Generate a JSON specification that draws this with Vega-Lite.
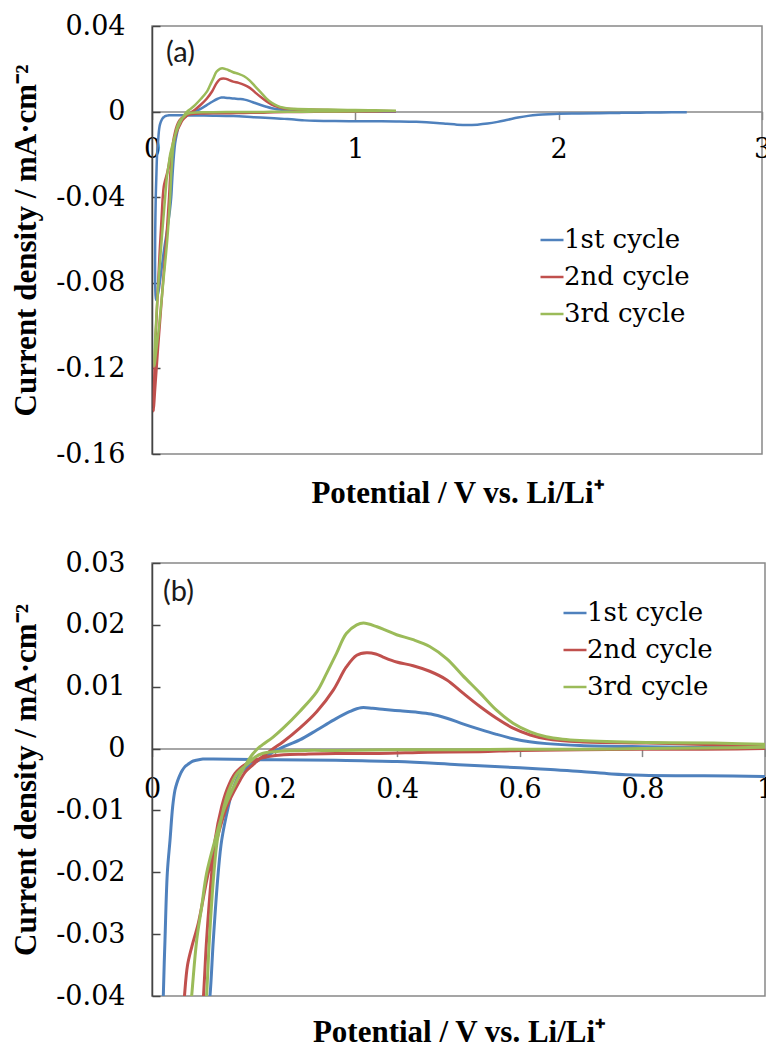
{
  "$schema": "https://vega.github.io/schema/vega-lite/v6.json",
  "padding": {"left": 10, "top": 11, "right": 0, "bottom": 0},
  "bounds": "flush",
  "spacing": 109,
  "config": {
    "view": {"stroke": "#888888", "strokeWidth": 1.5},
    "axis": {"grid": false, "labelFont": "DejaVu Serif", "labelFontSize": 27, "labelColor": "#000000", "titleFont": "Liberation Serif", "titleFontSize": 31, "titleFontWeight": "bold", "titleColor": "#000000", "labelOverlap": false, "labelFlush": false},
    "legend": {"orient": "none", "title": null, "symbolType": "stroke", "symbolSize": 529, "symbolStrokeWidth": 2.5, "labelFont": "DejaVu Serif", "labelFontSize": 26, "labelColor": "#000000", "labelOffset": -1, "rowPadding": 11, "padding": 0, "labelLimit": 0}
  },
  "resolve": {"legend": {"color": "independent"}},
  "datasets": {
    "cv": [
      {"c":"1st cycle","i":0,"v":2.63,"j":-0.0003},
      {"c":"1st cycle","i":1,"v":2.5,"j":-0.0004},
      {"c":"1st cycle","i":2,"v":2.4,"j":-0.0005},
      {"c":"1st cycle","i":3,"v":2.3,"j":-0.0006},
      {"c":"1st cycle","i":4,"v":2.2,"j":-0.0008},
      {"c":"1st cycle","i":5,"v":2.1,"j":-0.0009},
      {"c":"1st cycle","i":6,"v":2.0,"j":-0.001},
      {"c":"1st cycle","i":7,"v":1.95,"j":-0.0012},
      {"c":"1st cycle","i":8,"v":1.9,"j":-0.0015},
      {"c":"1st cycle","i":9,"v":1.85,"j":-0.002},
      {"c":"1st cycle","i":10,"v":1.8,"j":-0.0028},
      {"c":"1st cycle","i":11,"v":1.75,"j":-0.0038},
      {"c":"1st cycle","i":12,"v":1.7,"j":-0.0048},
      {"c":"1st cycle","i":13,"v":1.65,"j":-0.0056},
      {"c":"1st cycle","i":14,"v":1.6,"j":-0.0061},
      {"c":"1st cycle","i":15,"v":1.55,"j":-0.0063},
      {"c":"1st cycle","i":16,"v":1.5,"j":-0.0061},
      {"c":"1st cycle","i":17,"v":1.45,"j":-0.0057},
      {"c":"1st cycle","i":18,"v":1.4,"j":-0.0053},
      {"c":"1st cycle","i":19,"v":1.3,"j":-0.0048},
      {"c":"1st cycle","i":20,"v":1.2,"j":-0.0046},
      {"c":"1st cycle","i":21,"v":1.1,"j":-0.0045},
      {"c":"1st cycle","i":22,"v":1.0,"j":-0.0045},
      {"c":"1st cycle","i":23,"v":0.9,"j":-0.0044},
      {"c":"1st cycle","i":24,"v":0.8,"j":-0.0043},
      {"c":"1st cycle","i":25,"v":0.75,"j":-0.0041},
      {"c":"1st cycle","i":26,"v":0.7,"j":-0.0037},
      {"c":"1st cycle","i":27,"v":0.65,"j":-0.0034},
      {"c":"1st cycle","i":28,"v":0.6,"j":-0.0031},
      {"c":"1st cycle","i":29,"v":0.5,"j":-0.0026},
      {"c":"1st cycle","i":30,"v":0.4,"j":-0.0021},
      {"c":"1st cycle","i":31,"v":0.3,"j":-0.0019},
      {"c":"1st cycle","i":32,"v":0.2,"j":-0.0018},
      {"c":"1st cycle","i":33,"v":0.1,"j":-0.0017},
      {"c":"1st cycle","i":34,"v":0.083,"j":-0.0017},
      {"c":"1st cycle","i":35,"v":0.072,"j":-0.0019},
      {"c":"1st cycle","i":36,"v":0.065,"j":-0.0021},
      {"c":"1st cycle","i":37,"v":0.058,"j":-0.0026},
      {"c":"1st cycle","i":38,"v":0.054,"j":-0.0029},
      {"c":"1st cycle","i":39,"v":0.049,"j":-0.0036},
      {"c":"1st cycle","i":40,"v":0.0446,"j":-0.0045},
      {"c":"1st cycle","i":41,"v":0.0405,"j":-0.0056},
      {"c":"1st cycle","i":42,"v":0.0375,"j":-0.0067},
      {"c":"1st cycle","i":43,"v":0.0337,"j":-0.0094},
      {"c":"1st cycle","i":44,"v":0.0294,"j":-0.0148},
      {"c":"1st cycle","i":45,"v":0.025,"j":-0.0201},
      {"c":"1st cycle","i":46,"v":0.0212,"j":-0.0309},
      {"c":"1st cycle","i":47,"v":0.0185,"j":-0.0398},
      {"c":"1st cycle","i":48,"v":0.016,"j":-0.055},
      {"c":"1st cycle","i":49,"v":0.015,"j":-0.07},
      {"c":"1st cycle","i":50,"v":0.016,"j":-0.082},
      {"c":"1st cycle","i":51,"v":0.02,"j":-0.088},
      {"c":"1st cycle","i":52,"v":0.03,"j":-0.085},
      {"c":"1st cycle","i":53,"v":0.045,"j":-0.075},
      {"c":"1st cycle","i":54,"v":0.06,"j":-0.064},
      {"c":"1st cycle","i":55,"v":0.075,"j":-0.055},
      {"c":"1st cycle","i":56,"v":0.087,"j":-0.047},
      {"c":"1st cycle","i":57,"v":0.0946,"j":-0.04},
      {"c":"1st cycle","i":58,"v":0.1,"j":-0.031},
      {"c":"1st cycle","i":59,"v":0.108,"j":-0.0201},
      {"c":"1st cycle","i":60,"v":0.1137,"j":-0.0148},
      {"c":"1st cycle","i":61,"v":0.1245,"j":-0.0094},
      {"c":"1st cycle","i":62,"v":0.1316,"j":-0.0067},
      {"c":"1st cycle","i":63,"v":0.1436,"j":-0.004},
      {"c":"1st cycle","i":64,"v":0.16,"j":-0.0026},
      {"c":"1st cycle","i":65,"v":0.176,"j":-0.0018},
      {"c":"1st cycle","i":66,"v":0.188,"j":-0.0012},
      {"c":"1st cycle","i":67,"v":0.198,"j":-0.0005},
      {"c":"1st cycle","i":68,"v":0.215,"j":0.0003},
      {"c":"1st cycle","i":69,"v":0.241,"j":0.0014},
      {"c":"1st cycle","i":70,"v":0.269,"j":0.003},
      {"c":"1st cycle","i":71,"v":0.296,"j":0.0046},
      {"c":"1st cycle","i":72,"v":0.323,"j":0.006},
      {"c":"1st cycle","i":73,"v":0.341,"j":0.0066},
      {"c":"1st cycle","i":74,"v":0.36,"j":0.0065},
      {"c":"1st cycle","i":75,"v":0.38,"j":0.0063},
      {"c":"1st cycle","i":76,"v":0.405,"j":0.0061},
      {"c":"1st cycle","i":77,"v":0.43,"j":0.0059},
      {"c":"1st cycle","i":78,"v":0.455,"j":0.0056},
      {"c":"1st cycle","i":79,"v":0.481,"j":0.0049},
      {"c":"1st cycle","i":80,"v":0.507,"j":0.004},
      {"c":"1st cycle","i":81,"v":0.535,"j":0.0031},
      {"c":"1st cycle","i":82,"v":0.562,"j":0.0023},
      {"c":"1st cycle","i":83,"v":0.589,"j":0.0016},
      {"c":"1st cycle","i":84,"v":0.616,"j":0.0011},
      {"c":"1st cycle","i":85,"v":0.644,"j":0.0008},
      {"c":"1st cycle","i":86,"v":0.698,"j":0.0005},
      {"c":"1st cycle","i":87,"v":0.8,"j":0.0003},
      {"c":"1st cycle","i":88,"v":0.9,"j":0.0002},
      {"c":"1st cycle","i":89,"v":1.0,"j":0.0002},
      {"c":"1st cycle","i":90,"v":1.1,"j":0.0001},
      {"c":"1st cycle","i":91,"v":1.2,"j":0.0001},
      {"c":"2nd cycle","i":0,"v":1.2,"j":0.0002},
      {"c":"2nd cycle","i":1,"v":1.1,"j":0.0001},
      {"c":"2nd cycle","i":2,"v":1.0,"j":0.0},
      {"c":"2nd cycle","i":3,"v":0.9,"j":-0.0001},
      {"c":"2nd cycle","i":4,"v":0.8,"j":-0.0001},
      {"c":"2nd cycle","i":5,"v":0.7,"j":-0.0002},
      {"c":"2nd cycle","i":6,"v":0.6,"j":-0.0003},
      {"c":"2nd cycle","i":7,"v":0.535,"j":-0.0005},
      {"c":"2nd cycle","i":8,"v":0.45,"j":-0.0006},
      {"c":"2nd cycle","i":9,"v":0.37,"j":-0.0008},
      {"c":"2nd cycle","i":10,"v":0.3,"j":-0.0008},
      {"c":"2nd cycle","i":11,"v":0.25,"j":-0.0009},
      {"c":"2nd cycle","i":12,"v":0.215,"j":-0.001},
      {"c":"2nd cycle","i":13,"v":0.19,"j":-0.0013},
      {"c":"2nd cycle","i":14,"v":0.17,"j":-0.0018},
      {"c":"2nd cycle","i":15,"v":0.1545,"j":-0.0024},
      {"c":"2nd cycle","i":16,"v":0.1354,"j":-0.004},
      {"c":"2nd cycle","i":17,"v":0.122,"j":-0.0067},
      {"c":"2nd cycle","i":18,"v":0.1137,"j":-0.0094},
      {"c":"2nd cycle","i":19,"v":0.1028,"j":-0.0148},
      {"c":"2nd cycle","i":20,"v":0.0974,"j":-0.0201},
      {"c":"2nd cycle","i":21,"v":0.089,"j":-0.031},
      {"c":"2nd cycle","i":22,"v":0.084,"j":-0.04},
      {"c":"2nd cycle","i":23,"v":0.07,"j":-0.06},
      {"c":"2nd cycle","i":24,"v":0.05,"j":-0.085},
      {"c":"2nd cycle","i":25,"v":0.03,"j":-0.11},
      {"c":"2nd cycle","i":26,"v":0.015,"j":-0.13},
      {"c":"2nd cycle","i":27,"v":0.008,"j":-0.14},
      {"c":"2nd cycle","i":28,"v":0.01,"j":-0.128},
      {"c":"2nd cycle","i":29,"v":0.018,"j":-0.105},
      {"c":"2nd cycle","i":30,"v":0.028,"j":-0.085},
      {"c":"2nd cycle","i":31,"v":0.038,"j":-0.065},
      {"c":"2nd cycle","i":32,"v":0.047,"j":-0.05},
      {"c":"2nd cycle","i":33,"v":0.053,"j":-0.04},
      {"c":"2nd cycle","i":34,"v":0.058,"j":-0.035},
      {"c":"2nd cycle","i":35,"v":0.065,"j":-0.032},
      {"c":"2nd cycle","i":36,"v":0.0756,"j":-0.0282},
      {"c":"2nd cycle","i":37,"v":0.0918,"j":-0.0201},
      {"c":"2nd cycle","i":38,"v":0.1055,"j":-0.0148},
      {"c":"2nd cycle","i":39,"v":0.122,"j":-0.0094},
      {"c":"2nd cycle","i":40,"v":0.141,"j":-0.0056},
      {"c":"2nd cycle","i":41,"v":0.152,"j":-0.0038},
      {"c":"2nd cycle","i":42,"v":0.165,"j":-0.0026},
      {"c":"2nd cycle","i":43,"v":0.176,"j":-0.0016},
      {"c":"2nd cycle","i":44,"v":0.187,"j":-0.0008},
      {"c":"2nd cycle","i":45,"v":0.198,"j":0.0},
      {"c":"2nd cycle","i":46,"v":0.214,"j":0.0011},
      {"c":"2nd cycle","i":47,"v":0.241,"j":0.0033},
      {"c":"2nd cycle","i":48,"v":0.269,"j":0.006},
      {"c":"2nd cycle","i":49,"v":0.296,"j":0.0095},
      {"c":"2nd cycle","i":50,"v":0.317,"j":0.0132},
      {"c":"2nd cycle","i":51,"v":0.334,"j":0.0151},
      {"c":"2nd cycle","i":52,"v":0.35,"j":0.0155},
      {"c":"2nd cycle","i":53,"v":0.365,"j":0.0153},
      {"c":"2nd cycle","i":54,"v":0.377,"j":0.0148},
      {"c":"2nd cycle","i":55,"v":0.399,"j":0.014},
      {"c":"2nd cycle","i":56,"v":0.426,"j":0.0134},
      {"c":"2nd cycle","i":57,"v":0.453,"j":0.0125},
      {"c":"2nd cycle","i":58,"v":0.481,"j":0.0111},
      {"c":"2nd cycle","i":59,"v":0.507,"j":0.009},
      {"c":"2nd cycle","i":60,"v":0.535,"j":0.0068},
      {"c":"2nd cycle","i":61,"v":0.562,"j":0.0049},
      {"c":"2nd cycle","i":62,"v":0.589,"j":0.0033},
      {"c":"2nd cycle","i":63,"v":0.617,"j":0.0022},
      {"c":"2nd cycle","i":64,"v":0.643,"j":0.0016},
      {"c":"2nd cycle","i":65,"v":0.698,"j":0.0011},
      {"c":"2nd cycle","i":66,"v":0.807,"j":0.0009},
      {"c":"2nd cycle","i":67,"v":0.916,"j":0.0006},
      {"c":"2nd cycle","i":68,"v":1.0,"j":0.0004},
      {"c":"2nd cycle","i":69,"v":1.1,"j":0.0003},
      {"c":"2nd cycle","i":70,"v":1.2,"j":0.0002},
      {"c":"3rd cycle","i":0,"v":1.2,"j":0.0004},
      {"c":"3rd cycle","i":1,"v":1.1,"j":0.0003},
      {"c":"3rd cycle","i":2,"v":1.0,"j":0.0002},
      {"c":"3rd cycle","i":3,"v":0.9,"j":0.0001},
      {"c":"3rd cycle","i":4,"v":0.8,"j":0.0},
      {"c":"3rd cycle","i":5,"v":0.7,"j":-0.0001},
      {"c":"3rd cycle","i":6,"v":0.6,"j":-0.0001},
      {"c":"3rd cycle","i":7,"v":0.5,"j":-0.0002},
      {"c":"3rd cycle","i":8,"v":0.4,"j":-0.0002},
      {"c":"3rd cycle","i":9,"v":0.3,"j":-0.0003},
      {"c":"3rd cycle","i":10,"v":0.25,"j":-0.0003},
      {"c":"3rd cycle","i":11,"v":0.2,"j":-0.0005},
      {"c":"3rd cycle","i":12,"v":0.18,"j":-0.0008},
      {"c":"3rd cycle","i":13,"v":0.168,"j":-0.0014},
      {"c":"3rd cycle","i":14,"v":0.157,"j":-0.0024},
      {"c":"3rd cycle","i":15,"v":0.139,"j":-0.004},
      {"c":"3rd cycle","i":16,"v":0.1256,"j":-0.0067},
      {"c":"3rd cycle","i":17,"v":0.1175,"j":-0.0094},
      {"c":"3rd cycle","i":18,"v":0.1066,"j":-0.0148},
      {"c":"3rd cycle","i":19,"v":0.101,"j":-0.0201},
      {"c":"3rd cycle","i":20,"v":0.0935,"j":-0.031},
      {"c":"3rd cycle","i":21,"v":0.089,"j":-0.04},
      {"c":"3rd cycle","i":22,"v":0.075,"j":-0.06},
      {"c":"3rd cycle","i":23,"v":0.055,"j":-0.08},
      {"c":"3rd cycle","i":24,"v":0.035,"j":-0.1},
      {"c":"3rd cycle","i":25,"v":0.018,"j":-0.114},
      {"c":"3rd cycle","i":26,"v":0.012,"j":-0.119},
      {"c":"3rd cycle","i":27,"v":0.014,"j":-0.11},
      {"c":"3rd cycle","i":28,"v":0.022,"j":-0.095},
      {"c":"3rd cycle","i":29,"v":0.035,"j":-0.075},
      {"c":"3rd cycle","i":30,"v":0.05,"j":-0.057},
      {"c":"3rd cycle","i":31,"v":0.0647,"j":-0.04},
      {"c":"3rd cycle","i":32,"v":0.073,"j":-0.0309},
      {"c":"3rd cycle","i":33,"v":0.081,"j":-0.0256},
      {"c":"3rd cycle","i":34,"v":0.089,"j":-0.0202},
      {"c":"3rd cycle","i":35,"v":0.1028,"j":-0.0148},
      {"c":"3rd cycle","i":36,"v":0.119,"j":-0.0094},
      {"c":"3rd cycle","i":37,"v":0.139,"j":-0.0051},
      {"c":"3rd cycle","i":38,"v":0.154,"j":-0.0024},
      {"c":"3rd cycle","i":39,"v":0.165,"j":-0.0008},
      {"c":"3rd cycle","i":40,"v":0.176,"j":0.0003},
      {"c":"3rd cycle","i":41,"v":0.198,"j":0.0019},
      {"c":"3rd cycle","i":42,"v":0.214,"j":0.0033},
      {"c":"3rd cycle","i":43,"v":0.241,"j":0.006},
      {"c":"3rd cycle","i":44,"v":0.269,"j":0.0092},
      {"c":"3rd cycle","i":45,"v":0.285,"j":0.0122},
      {"c":"3rd cycle","i":46,"v":0.301,"j":0.0154},
      {"c":"3rd cycle","i":47,"v":0.317,"j":0.0186},
      {"c":"3rd cycle","i":48,"v":0.334,"j":0.02},
      {"c":"3rd cycle","i":49,"v":0.345,"j":0.0203},
      {"c":"3rd cycle","i":50,"v":0.367,"j":0.0197},
      {"c":"3rd cycle","i":51,"v":0.38,"j":0.0192},
      {"c":"3rd cycle","i":52,"v":0.399,"j":0.0184},
      {"c":"3rd cycle","i":53,"v":0.426,"j":0.0176},
      {"c":"3rd cycle","i":54,"v":0.453,"j":0.0165},
      {"c":"3rd cycle","i":55,"v":0.481,"j":0.0145},
      {"c":"3rd cycle","i":56,"v":0.507,"j":0.0118},
      {"c":"3rd cycle","i":57,"v":0.535,"j":0.009},
      {"c":"3rd cycle","i":58,"v":0.562,"j":0.0062},
      {"c":"3rd cycle","i":59,"v":0.589,"j":0.0041},
      {"c":"3rd cycle","i":60,"v":0.617,"j":0.0027},
      {"c":"3rd cycle","i":61,"v":0.643,"j":0.0019},
      {"c":"3rd cycle","i":62,"v":0.67,"j":0.0015},
      {"c":"3rd cycle","i":63,"v":0.698,"j":0.0013},
      {"c":"3rd cycle","i":64,"v":0.807,"j":0.001},
      {"c":"3rd cycle","i":65,"v":0.916,"j":0.0009},
      {"c":"3rd cycle","i":66,"v":1.0,"j":0.0007},
      {"c":"3rd cycle","i":67,"v":1.1,"j":0.0006},
      {"c":"3rd cycle","i":68,"v":1.2,"j":0.0004}
    ]
  },
  "vconcat": [
    {
      "width": 610,
      "height": 428,
      "layer": [
        {
          "data": {"name": "cv"},
          "mark": {"type": "line", "strokeWidth": 2.5, "clip": true, "strokeJoin": "round", "interpolate": "catmull-rom"},
          "encoding": {
            "x": {"field": "v", "type": "quantitative", "scale": {"domain": [0, 3], "nice": false, "zero": false},
              "axis": {"values": [0, 1, 2, 3], "offset": -342.4, "domainColor": "#888888", "domainWidth": 1.5, "tickColor": "#888888", "tickWidth": 1.5, "tickSize": 8, "labelPadding": 17, "labelExpr": "format(datum.value, '~g')", "title": "Potential / V vs. Li/Li⁺", "titleY": 367}},
            "y": {"field": "j", "type": "quantitative", "scale": {"domain": [-0.16, 0.04], "nice": false, "zero": false},
              "axis": {"values": [0.04, 0, -0.04, -0.08, -0.12, -0.16], "domainColor": "#444444", "domainWidth": 1.5, "tickColor": "#444444", "tickWidth": 1.5, "tickSize": -8, "labelPadding": 35, "labelExpr": "datum.value == 0 ? '0' : (datum.value < 0 ? '-' : '') + format(abs(datum.value), '.2f')", "title": "Current density / mA·cm⁻²", "titlePadding": 13}},
            "color": {"field": "c", "type": "nominal", "scale": {"domain": ["1st cycle", "2nd cycle", "3rd cycle"], "range": ["#4F81BD", "#C0504D", "#9BBB59"]},
              "legend": {"orient": "none", "legendX": 387, "legendY": 201}},
            "order": {"field": "i", "type": "quantitative"}
          }
        },
        {
          "data": {"values": [{"t": "(a)", "v": 0.069, "j": 0.0274}]},
          "mark": {"type": "text", "align": "left", "baseline": "middle", "font": "Lato", "fontSize": 29, "color": "#1a1a1a"},
          "encoding": {
            "x": {"field": "v", "type": "quantitative", "scale": {"domain": [0, 3], "nice": false, "zero": false}},
            "y": {"field": "j", "type": "quantitative", "scale": {"domain": [-0.16, 0.04], "nice": false, "zero": false}},
            "text": {"field": "t"}
          }
        }
      ]
    },
    {
      "width": 613,
      "height": 433,
      "layer": [
        {
          "data": {"name": "cv"},
          "mark": {"type": "line", "strokeWidth": 3, "clip": true, "strokeJoin": "round", "interpolate": "catmull-rom"},
          "encoding": {
            "x": {"field": "v", "type": "quantitative", "scale": {"domain": [0, 1], "nice": false, "zero": false},
              "axis": {"values": [0, 0.2, 0.4, 0.6, 0.8, 1], "offset": -247.4, "domainColor": "#888888", "domainWidth": 1.5, "tickColor": "#888888", "tickWidth": 1.5, "tickSize": 8, "labelPadding": 20, "labelExpr": "datum.value == 0 ? '0' : datum.value == 1 ? '1' : format(datum.value, '.1f')", "title": "Potential / V vs. Li/Li⁺", "titleY": 268.5}},
            "y": {"field": "j", "type": "quantitative", "scale": {"domain": [-0.04, 0.03], "nice": false, "zero": false},
              "axis": {"values": [0.03, 0.02, 0.01, 0, -0.01, -0.02, -0.03, -0.04], "domainColor": "#444444", "domainWidth": 1.5, "tickColor": "#444444", "tickWidth": 1.5, "tickSize": -8, "labelPadding": 35, "labelExpr": "datum.value == 0 ? '0' : (datum.value < 0 ? '-' : '') + format(abs(datum.value), '.2f')", "title": "Current density / mA·cm⁻²", "titlePadding": 13}},
            "color": {"field": "c", "type": "nominal", "scale": {"domain": ["1st cycle", "2nd cycle", "3rd cycle"], "range": ["#4F81BD", "#C0504D", "#9BBB59"]},
              "legend": {"orient": "none", "legendX": 410, "legendY": 37}},
            "order": {"field": "i", "type": "quantitative"}
          }
        },
        {
          "data": {"values": [{"t": "(b)", "v": 0.018, "j": 0.0253}]},
          "mark": {"type": "text", "align": "left", "baseline": "middle", "font": "Lato", "fontSize": 29, "color": "#1a1a1a"},
          "encoding": {
            "x": {"field": "v", "type": "quantitative", "scale": {"domain": [0, 1], "nice": false, "zero": false}},
            "y": {"field": "j", "type": "quantitative", "scale": {"domain": [-0.04, 0.03], "nice": false, "zero": false}},
            "text": {"field": "t"}
          }
        }
      ]
    }
  ]
}
